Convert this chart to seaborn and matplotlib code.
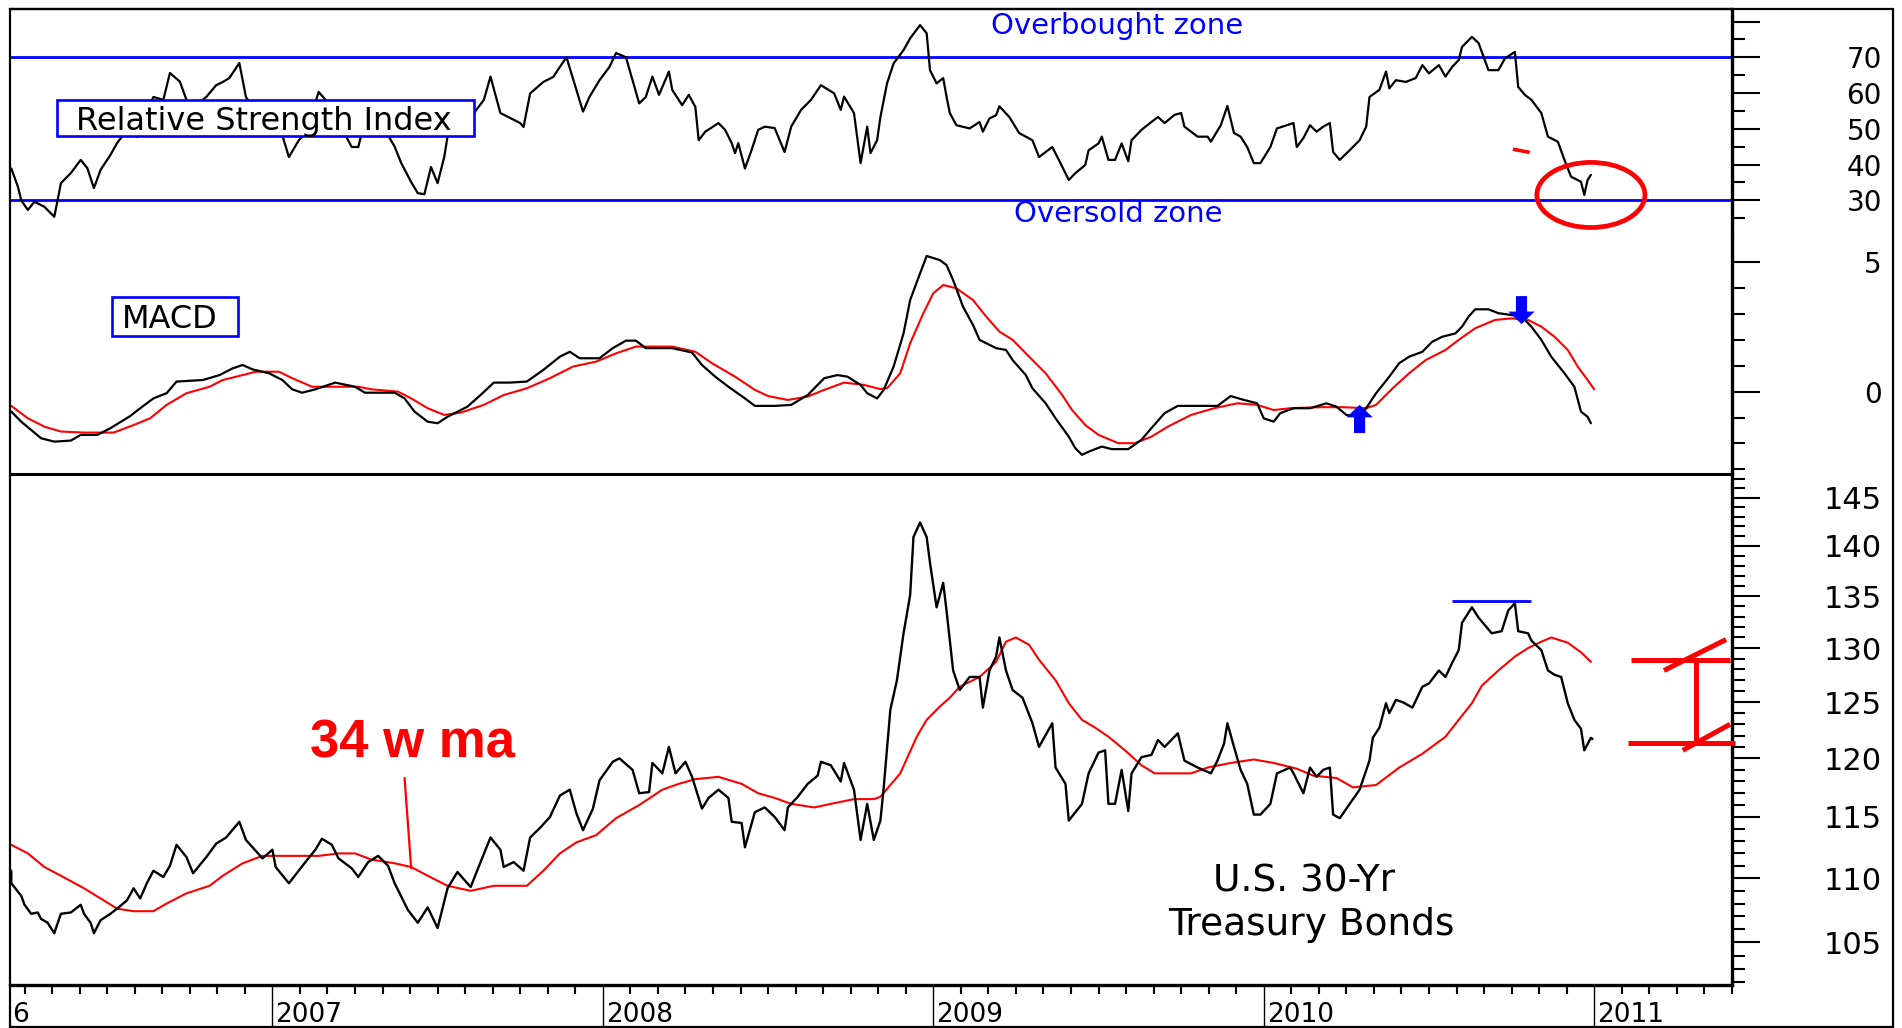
import matplotlib
matplotlib.use('Agg')
import numpy as np
import pandas as pd
import matplotlib.pyplot as plt
import seaborn as sns
from matplotlib.patches import Rectangle, Ellipse
from matplotlib.ticker import FixedLocator, NullFormatter

sns.set_theme(style='white', rc={'axes.edgecolor': 'black', 'text.color': 'black',
                                 'xtick.color': 'black', 'ytick.color': 'black'})
plt.rcParams['font.family'] = ['DejaVu Sans']

# ---------------- data (weekly, time in decimal years) ----------------
price_t = [2006.21, 2006.21, 2006.24, 2006.25, 2006.27, 2006.29, 2006.30, 2006.32, 2006.34, 2006.36,
           2006.39, 2006.42, 2006.43, 2006.45, 2006.46, 2006.48, 2006.51, 2006.53, 2006.56, 2006.58,
           2006.60, 2006.62, 2006.64, 2006.67, 2006.69, 2006.71, 2006.74, 2006.76, 2006.80, 2006.83,
           2006.86, 2006.90, 2006.92, 2006.97, 2007.00, 2007.01, 2007.05, 2007.10, 2007.13, 2007.15,
           2007.18, 2007.20, 2007.24, 2007.26, 2007.29, 2007.32, 2007.35, 2007.37, 2007.41, 2007.44,
           2007.47, 2007.50, 2007.53, 2007.56, 2007.60, 2007.63, 2007.66, 2007.69, 2007.70, 2007.73,
           2007.76, 2007.78, 2007.81, 2007.84, 2007.87, 2007.90, 2007.92, 2007.94, 2007.97, 2007.99,
           2008.03, 2008.05, 2008.09, 2008.11, 2008.14, 2008.15, 2008.18, 2008.20, 2008.22, 2008.25,
           2008.27, 2008.30, 2008.32, 2008.35, 2008.38, 2008.39, 2008.42, 2008.43, 2008.46, 2008.49,
           2008.52, 2008.55, 2008.56, 2008.59, 2008.62, 2008.65, 2008.66, 2008.69, 2008.72, 2008.73,
           2008.76, 2008.78, 2008.80, 2008.82, 2008.84, 2008.85, 2008.87, 2008.89, 2008.91, 2008.93,
           2008.94, 2008.96, 2008.98, 2008.99, 2009.01, 2009.03, 2009.04, 2009.06, 2009.08, 2009.11,
           2009.14, 2009.15, 2009.17, 2009.19, 2009.20, 2009.22, 2009.24, 2009.27, 2009.30, 2009.32,
           2009.36, 2009.37, 2009.40, 2009.41, 2009.45, 2009.47, 2009.50, 2009.52, 2009.53, 2009.55,
           2009.57, 2009.59, 2009.60, 2009.63, 2009.66, 2009.68, 2009.70, 2009.72, 2009.74, 2009.76,
           2009.80, 2009.84, 2009.86, 2009.88, 2009.89, 2009.91, 2009.93, 2009.95, 2009.97, 2009.99,
           2010.02, 2010.04, 2010.08, 2010.09, 2010.12, 2010.14, 2010.16, 2010.18, 2010.20, 2010.21,
           2010.23, 2010.26, 2010.29, 2010.32, 2010.33, 2010.35, 2010.37, 2010.38, 2010.40, 2010.42,
           2010.45, 2010.48, 2010.50, 2010.53, 2010.55, 2010.57, 2010.59, 2010.60, 2010.63, 2010.65,
           2010.69, 2010.72, 2010.74, 2010.76, 2010.77, 2010.80, 2010.81, 2010.84, 2010.86, 2010.88,
           2010.90, 2010.92, 2010.94, 2010.96, 2010.97, 2010.99, 2010.995]
price = [110.6, 109.6, 108.6, 107.9, 107.2, 107.3, 106.8, 106.5, 105.7, 107.2,
         107.3, 107.9, 107.2, 106.5, 105.7, 106.7, 107.2, 107.6, 108.25, 109.2,
         108.4, 109.6, 110.6, 110.1, 111.0, 112.7, 111.7, 110.4, 111.7, 112.8,
         113.3, 114.6, 113.1, 111.6, 112.3, 110.9, 109.6, 111.3, 112.3, 113.2,
         112.7, 111.6, 110.8, 110.1, 111.3, 111.8, 111.0, 109.6, 107.5, 106.5,
         107.7, 106.1, 109.2, 110.5, 109.3, 111.3, 113.3, 112.3, 110.9, 111.3,
         110.6, 113.3, 114.1, 115.0, 116.8, 117.3, 115.3, 113.9, 115.7, 118.1,
         119.7, 120.0, 119.0, 117.0, 117.1, 119.6, 118.7, 121.0, 118.7, 119.7,
         118.4, 115.7, 116.6, 117.3, 116.6, 114.6, 114.5, 112.5, 115.4, 115.8,
         115.0, 113.9, 115.8, 116.7, 117.8, 118.5, 119.7, 119.4, 118.0, 119.6,
         117.3, 113.1, 116.1, 113.1, 114.7, 117.5, 124.3, 127.0, 131.4, 135.1,
         140.9, 142.4, 140.9, 138.3, 133.9, 136.3, 133.6, 127.9, 126.1, 127.3,
         127.3, 124.5, 127.9, 129.2, 131.0, 127.9, 126.1, 125.4, 123.1, 121.0,
         123.1, 119.2, 117.8, 114.7, 116.1, 118.7, 120.5, 120.7, 116.1, 116.1,
         119.0, 115.5, 118.7, 120.1, 120.3, 121.6, 121.0, 121.6, 122.2, 119.8,
         119.2, 118.7, 119.8, 121.3, 123.1, 121.0, 119.0, 117.8, 115.2, 115.2,
         116.1, 118.7, 119.2, 118.7, 117.0, 119.2, 118.4, 119.0, 119.2, 115.2,
         114.9, 116.1, 117.3, 119.8, 121.8, 122.7, 124.9, 124.0, 125.2, 125.0,
         124.5, 126.4, 126.7, 127.9, 127.3, 128.6, 129.8, 132.4, 133.9, 132.9,
         131.4, 131.6, 133.6, 134.3, 131.6, 131.4, 130.7, 129.8, 127.9, 127.5,
         127.3, 124.9, 123.4, 122.6, 120.7, 121.8, 121.7]

ma_t = [2006.21, 2006.26, 2006.31, 2006.36, 2006.43, 2006.48, 2006.53, 2006.58, 2006.64, 2006.68,
        2006.74, 2006.81, 2006.85, 2006.91, 2006.97, 2007.03, 2007.14, 2007.20, 2007.25, 2007.30,
        2007.37, 2007.42, 2007.47, 2007.53, 2007.60, 2007.67, 2007.77, 2007.82, 2007.87, 2007.92,
        2007.98, 2008.04, 2008.11, 2008.18, 2008.23, 2008.28, 2008.35, 2008.42, 2008.47, 2008.52,
        2008.57, 2008.64, 2008.69, 2008.76, 2008.82, 2008.84, 2008.90, 2008.95, 2008.98, 2009.02,
        2009.05, 2009.08, 2009.14, 2009.19, 2009.22, 2009.25, 2009.29, 2009.32, 2009.37, 2009.41,
        2009.45, 2009.49, 2009.53, 2009.58, 2009.63, 2009.67, 2009.73, 2009.78, 2009.83, 2009.90,
        2009.97, 2010.03, 2010.10, 2010.15, 2010.22, 2010.27, 2010.34, 2010.41, 2010.48, 2010.55,
        2010.59, 2010.63, 2010.66, 2010.71, 2010.76, 2010.80, 2010.84, 2010.87, 2010.92, 2010.96,
        2010.99]
ma_34w = [112.7, 112.0, 110.9, 110.2, 109.2, 108.4, 107.6, 107.4, 107.4, 108.0,
          108.8, 109.4, 110.2, 111.2, 111.8, 111.8, 111.8, 112.0, 112.0, 111.5,
          111.2, 110.9, 110.2, 109.4, 109.0, 109.4, 109.4, 110.6, 112.0, 112.9,
          113.5, 114.9, 116.0, 117.3, 117.8, 118.2, 118.4, 117.8, 117.0, 116.6,
          116.1, 115.8, 116.1, 116.5, 116.5, 116.7, 118.7, 121.9, 123.4, 124.6,
          125.4, 126.4, 127.3, 128.7, 130.6, 131.0, 130.3, 128.9, 127.0, 124.9,
          123.4, 122.7, 121.9, 120.7, 119.4, 118.7, 118.7, 118.7, 119.2, 119.6,
          119.9, 119.6, 119.1, 118.5, 118.3, 117.5, 117.7, 119.2, 120.4, 121.9,
          123.4, 124.9, 126.5, 127.9, 129.2, 130.0, 130.6, 131.0, 130.5, 129.6,
          128.7]

rsi_t = [2006.21, 2006.23, 2006.24, 2006.26, 2006.28, 2006.31, 2006.34, 2006.35, 2006.36, 2006.39,
         2006.42, 2006.44, 2006.46, 2006.48, 2006.51, 2006.53, 2006.56, 2006.59, 2006.62, 2006.64,
         2006.67, 2006.69, 2006.72, 2006.74, 2006.76, 2006.80, 2006.83, 2006.85, 2006.87, 2006.90,
         2006.92, 2006.97, 2007.03, 2007.05, 2007.08, 2007.10, 2007.14, 2007.18, 2007.20, 2007.24,
         2007.26, 2007.27, 2007.31, 2007.35, 2007.37, 2007.39, 2007.42, 2007.44, 2007.46, 2007.48,
         2007.50, 2007.52, 2007.53, 2007.59, 2007.61, 2007.64, 2007.66, 2007.69, 2007.72, 2007.75,
         2007.76, 2007.78, 2007.82, 2007.85, 2007.87, 2007.89, 2007.92, 2007.94, 2007.96, 2007.99,
         2008.02, 2008.04, 2008.07, 2008.09, 2008.11, 2008.13, 2008.15, 2008.17, 2008.20, 2008.21,
         2008.24, 2008.26, 2008.28, 2008.29, 2008.31, 2008.35, 2008.37, 2008.39, 2008.40, 2008.41,
         2008.43, 2008.45, 2008.47, 2008.49, 2008.52, 2008.55, 2008.57, 2008.60, 2008.63, 2008.66,
         2008.70, 2008.72, 2008.73, 2008.76, 2008.78, 2008.80, 2008.81, 2008.83, 2008.84, 2008.86,
         2008.88, 2008.91, 2008.93, 2008.96, 2008.98, 2008.99, 2009.01, 2009.03, 2009.04, 2009.05,
         2009.07, 2009.11, 2009.14, 2009.15, 2009.17, 2009.19, 2009.20, 2009.23, 2009.26, 2009.30,
         2009.32, 2009.36, 2009.38, 2009.41, 2009.43, 2009.46, 2009.47, 2009.50, 2009.51, 2009.53,
         2009.55, 2009.57, 2009.59, 2009.60, 2009.63, 2009.66, 2009.68, 2009.70, 2009.73, 2009.75,
         2009.76, 2009.80, 2009.83, 2009.84, 2009.87, 2009.89, 2009.91, 2009.93, 2009.95, 2009.97,
         2009.99, 2010.02, 2010.04, 2010.07, 2010.09, 2010.10, 2010.12, 2010.14, 2010.16, 2010.18,
         2010.20, 2010.21, 2010.23, 2010.26, 2010.29, 2010.31, 2010.32, 2010.35, 2010.37, 2010.38,
         2010.40, 2010.43, 2010.46, 2010.48, 2010.50, 2010.53, 2010.55, 2010.57, 2010.59, 2010.60,
         2010.63, 2010.65, 2010.68, 2010.71, 2010.73, 2010.76, 2010.77, 2010.79, 2010.81, 2010.84,
         2010.86, 2010.89, 2010.91, 2010.93, 2010.96, 2010.97, 2010.98, 2010.99]
rsi = [38.9, 33.8, 30.0, 27.3, 29.6, 28.2, 25.4, 30.0, 34.8, 37.6,
       41.3, 39.0, 33.4, 38.5, 42.7, 46.0, 49.7, 47.7, 55.3, 58.9,
       58.1, 65.6, 63.2, 58.1, 56.1, 58.9, 62.2, 63.1, 64.2, 68.4,
       58.9, 52.0, 48.2, 42.1, 46.8, 48.7, 60.3, 56.1, 52.0, 44.9,
       44.9, 48.8, 50.5, 48.2, 45.0, 40.4, 35.1, 32.0, 31.7, 39.3,
       34.8, 42.1, 47.8, 51.6, 54.4, 58.1, 64.6, 54.4, 53.0, 51.6,
       50.5, 59.9, 63.1, 64.5, 67.3, 70.0, 60.9, 54.8, 59.0, 63.6,
       67.3, 71.2, 70.0, 63.6, 57.1, 58.9, 64.6, 59.5, 66.0, 60.9,
       56.6, 59.5, 56.1, 46.8, 49.2, 51.6, 49.7, 46.0, 43.2, 46.0,
       38.9, 44.0, 49.7, 50.6, 50.2, 43.5, 50.6, 55.3, 58.1, 62.2,
       59.9, 55.3, 59.0, 54.4, 40.4, 50.6, 43.2, 46.8, 53.3, 62.7,
       68.3, 72.0, 75.3, 79.0, 76.7, 66.4, 62.7, 64.2, 59.0, 54.4,
       51.0, 50.1, 51.9, 49.2, 52.9, 53.8, 56.3, 53.3, 48.8, 46.8,
       42.1, 44.9, 41.3, 35.7, 37.6, 39.9, 44.0, 45.9, 47.8, 41.3,
       41.3, 45.9, 40.9, 46.8, 49.7, 51.9, 53.3, 51.6, 53.9, 54.4,
       50.6, 47.8, 47.8, 46.4, 51.0, 56.4, 48.8, 47.8, 44.9, 40.4,
       40.4, 44.9, 50.1, 51.0, 51.6, 44.9, 47.4, 51.0, 49.2, 50.6,
       51.6, 43.5, 41.3, 44.0, 46.8, 50.6, 58.9, 60.9, 66.0, 61.3,
       63.6, 63.1, 64.2, 67.8, 65.5, 67.8, 64.6, 67.3, 69.2, 72.9,
       75.7, 74.0, 66.4, 66.4, 69.7, 71.5, 61.7, 59.5, 58.1, 54.4,
       47.8, 46.4, 41.3, 36.6, 35.2, 31.5, 35.7, 37.1]

macd_t = [2006.21, 2006.24, 2006.27, 2006.30, 2006.34, 2006.39, 2006.42, 2006.47, 2006.51, 2006.57,
          2006.60, 2006.64, 2006.68, 2006.71, 2006.79, 2006.84, 2006.88, 2006.91, 2006.94, 2006.99,
          2007.03, 2007.06, 2007.09, 2007.13, 2007.19, 2007.25, 2007.28, 2007.37, 2007.40, 2007.43,
          2007.47, 2007.50, 2007.53, 2007.59, 2007.63, 2007.67, 2007.72, 2007.77, 2007.82, 2007.87,
          2007.90, 2007.93, 2007.99, 2008.03, 2008.07, 2008.10, 2008.13, 2008.21, 2008.27, 2008.30,
          2008.34, 2008.38, 2008.43, 2008.46, 2008.52, 2008.57, 2008.62, 2008.67, 2008.71, 2008.74,
          2008.78, 2008.80, 2008.83, 2008.85, 2008.88, 2008.91, 2008.93, 2008.96, 2008.98, 2009.02,
          2009.04, 2009.06, 2009.09, 2009.12, 2009.14, 2009.19, 2009.22, 2009.24, 2009.28, 2009.30,
          2009.34, 2009.37, 2009.41, 2009.43, 2009.45, 2009.47, 2009.51, 2009.54, 2009.59, 2009.63,
          2009.66, 2009.70, 2009.74, 2009.86, 2009.90, 2009.94, 2009.98, 2010.00, 2010.03, 2010.05,
          2010.09, 2010.14, 2010.19, 2010.22, 2010.25, 2010.29, 2010.31, 2010.34, 2010.38, 2010.41,
          2010.44, 2010.48, 2010.51, 2010.54, 2010.58, 2010.60, 2010.62, 2010.64, 2010.68, 2010.71,
          2010.75, 2010.78, 2010.81, 2010.84, 2010.87, 2010.91, 2010.94, 2010.96, 2010.98, 2010.99]
macd = [-0.77, -1.16, -1.48, -1.80, -1.93, -1.89, -1.67, -1.67, -1.41, -0.94,
        -0.64, -0.26, -0.06, 0.39, 0.45, 0.64, 0.90, 1.03, 0.86, 0.71,
        0.45, 0.09, -0.04, 0.09, 0.35, 0.19, -0.04, -0.04, -0.26, -0.77,
        -1.16, -1.22, -0.97, -0.58, -0.13, 0.35, 0.35, 0.39, 0.84, 1.35,
        1.54, 1.29, 1.29, 1.68, 1.97, 1.97, 1.68, 1.68, 1.51, 1.03,
        0.58, 0.19, -0.26, -0.55, -0.55, -0.51, -0.13, 0.52, 0.64, 0.58,
        0.26, -0.06, -0.26, 0.07, 0.97, 2.25, 3.54, 4.57, 5.24, 5.08,
        4.89, 4.31, 3.28, 2.58, 2.00, 1.68, 1.61, 1.22, 0.64, 0.13,
        -0.45, -1.03, -1.74, -2.19, -2.44, -2.32, -2.12, -2.22, -2.22, -1.86,
        -1.41, -0.83, -0.55, -0.55, -0.17, -0.32, -0.45, -1.03, -1.16, -0.83,
        -0.64, -0.64, -0.45, -0.58, -0.90, -0.97, -0.64, -0.06, 0.58, 1.10,
        1.35, 1.54, 1.93, 2.12, 2.25, 2.51, 2.90, 3.18, 3.18, 3.03,
        2.96, 2.90, 2.51, 2.00, 1.35, 0.71, 0.19, -0.77, -0.97, -1.22]

signal_t = [2006.21, 2006.26, 2006.31, 2006.36, 2006.43, 2006.52, 2006.58, 2006.63, 2006.68, 2006.74,
            2006.81, 2006.85, 2006.91, 2006.95, 2007.02, 2007.06, 2007.12, 2007.26, 2007.30, 2007.38,
            2007.42, 2007.47, 2007.52, 2007.57, 2007.64, 2007.70, 2007.77, 2007.84, 2007.91, 2007.98,
            2008.04, 2008.10, 2008.21, 2008.28, 2008.33, 2008.40, 2008.46, 2008.50, 2008.56, 2008.62,
            2008.67, 2008.73, 2008.79, 2008.84, 2008.86, 2008.90, 2008.93, 2008.97, 2009.00, 2009.03,
            2009.07, 2009.12, 2009.16, 2009.20, 2009.24, 2009.29, 2009.34, 2009.39, 2009.42, 2009.46,
            2009.50, 2009.56, 2009.61, 2009.66, 2009.71, 2009.78, 2009.85, 2009.92, 2009.98, 2010.03,
            2010.08, 2010.17, 2010.24, 2010.31, 2010.34, 2010.39, 2010.44, 2010.49, 2010.55, 2010.59,
            2010.64, 2010.70, 2010.75, 2010.80, 2010.84, 2010.88, 2010.92, 2010.95, 2010.98, 2011.00]
signal = [-0.55, -1.03, -1.35, -1.54, -1.58, -1.58, -1.29, -1.03, -0.51, -0.06,
          0.19, 0.45, 0.64, 0.77, 0.77, 0.52, 0.19, 0.19, 0.09, 0.00,
          -0.26, -0.64, -0.90, -0.81, -0.51, -0.13, 0.13, 0.52, 0.97, 1.16,
          1.48, 1.74, 1.74, 1.54, 1.10, 0.58, 0.07, -0.17, -0.32, -0.19,
          0.07, 0.35, 0.26, 0.10, 0.13, 0.71, 1.87, 3.03, 3.80, 4.12,
          3.99, 3.54, 2.90, 2.32, 2.00, 1.35, 0.71, -0.13, -0.71, -1.29,
          -1.67, -1.99, -1.99, -1.74, -1.35, -0.90, -0.64, -0.45, -0.51, -0.71,
          -0.64, -0.60, -0.60, -0.64, -0.51, 0.13, 0.71, 1.22, 1.61, 2.00,
          2.45, 2.77, 2.83, 2.77, 2.51, 2.12, 1.61, 0.97, 0.45, 0.09]

years = [2007, 2008, 2009, 2010, 2011]

# annotation anchors (data units)
macd_buy = (2010.29, -0.51, -1.60)     # x, arrow tip, arrow tail
macd_sell = (2010.78, 2.61, 3.69)
top_level = 134.5                       # double-top line
top_span = (2010.57, 2010.81)
range_hi, range_lo = 128.9, 121.3       # red bracket on the right

assert len(price_t) == len(price) and len(ma_t) == len(ma_34w)
assert len(rsi_t) == len(rsi) and len(macd_t) == len(macd) and len(signal_t) == len(signal)

price_df = pd.DataFrame({'t': price_t, 'v': price})
ma_df = pd.DataFrame({'t': ma_t, 'v': ma_34w})
rsi_df = pd.DataFrame({'t': rsi_t, 'v': rsi})
macd_df = pd.DataFrame({'t': macd_t, 'v': macd})
signal_df = pd.DataFrame({'t': signal_t, 'v': signal})

# ---------------- layout ----------------
W, H = 1902, 1028
BLUE = '#0000ff'
RED = '#ff0000'
fig = plt.figure(figsize=(W / 100, H / 100), dpi=100)
fig.patch.set_facecolor('white')


def fx(px):
    return px / W


def fy(py):
    return 1 - py / H


def px_axes(x0, y0, x1, y1):
    return fig.add_axes([fx(x0), fy(y1), (x1 - x0) / W, (y1 - y0) / H])


ax_rsi = px_axes(10, 9, 1732, 235)
ax_macd = px_axes(10, 235, 1732, 474)
ax_px = px_axes(10, 474, 1732, 985)

XLIM = (2006.206, 2011.417)
LABEL_PAD = 88

for ax in (ax_rsi, ax_macd, ax_px):
    ax.set_xlim(*XLIM)
    ax.set_facecolor('white')
    ax.grid(False)
    for s in ax.spines.values():
        s.set_color('black')
    ax.spines['left'].set_linewidth(1.4)
    ax.spines['right'].set_linewidth(2.4)
    ax.yaxis.tick_right()
    ax.tick_params(axis='y', which='both', direction='out', right=True, left=False,
                   labelright=True, labelleft=False, width=1.5, colors='black')
    ax.tick_params(axis='y', which='major', length=20, pad=LABEL_PAD)
    ax.tick_params(axis='y', which='minor', length=9.5)

ax_rsi.spines['bottom'].set_visible(False)
ax_rsi.spines['top'].set_linewidth(1.6)
ax_macd.spines['top'].set_visible(False)
ax_macd.spines['bottom'].set_visible(False)
ax_px.spines['top'].set_linewidth(2.2)
ax_px.spines['bottom'].set_linewidth(2.4)
for ax in (ax_rsi, ax_macd):
    ax.tick_params(axis='x', which='both', bottom=False, top=False, labelbottom=False)

# ---------------- RSI panel ----------------
sns.lineplot(data=rsi_df, x='t', y='v', ax=ax_rsi, color='black', lw=1.6,
             estimator=None, sort=False, legend=False)
ax_rsi.axhline(70, color=BLUE, lw=2.0, zorder=1)
ax_rsi.axhline(30, color=BLUE, lw=2.0, zorder=1)
ax_rsi.set_ylim(20.3, 83.5)
ax_rsi.yaxis.set_major_locator(FixedLocator([20, 30, 40, 50, 60, 70, 80]))
ax_rsi.set_yticklabels(['', '30', '40', '50', '60', '70', ''])
ax_rsi.yaxis.set_minor_locator(FixedLocator([25, 35, 45, 55, 65, 75]))
ax_rsi.yaxis.set_minor_formatter(NullFormatter())
ax_rsi.add_patch(Ellipse((2010.99, 31.5), width=0.327, height=18.2, fill=False,
                         ec=RED, lw=3.4, clip_on=False, zorder=5))
ax_rsi.plot([2010.754, 2010.805], [44.3, 43.4], color=RED, lw=2.6, solid_capstyle='butt')
ax_rsi.set_xlabel('')
ax_rsi.set_ylabel('')

# ---------------- MACD panel ----------------
sns.lineplot(data=signal_df, x='t', y='v', ax=ax_macd, color=RED, lw=1.5,
             estimator=None, sort=False, legend=False)
sns.lineplot(data=macd_df, x='t', y='v', ax=ax_macd, color='black', lw=1.6,
             estimator=None, sort=False, legend=False)
ax_macd.set_ylim(-3.18, 6.05)
ax_macd.yaxis.set_major_locator(FixedLocator([0, 5]))
ax_macd.set_yticklabels(['0', '5'])
ax_macd.yaxis.set_minor_locator(FixedLocator([-3, -2, -1, 1, 2, 3, 4]))
ax_macd.yaxis.set_minor_formatter(NullFormatter())
arrow_style = 'simple,head_length=0.9,head_width=1.9,tail_width=0.8'
for x, tip, tail in (macd_buy, macd_sell):
    ax_macd.annotate('', xy=(x, tip), xytext=(x, tail),
                     arrowprops=dict(arrowstyle=arrow_style, color=BLUE, lw=0,
                                     shrinkA=0, shrinkB=0, mutation_scale=10),
                     zorder=6)
ax_macd.set_xlabel('')
ax_macd.set_ylabel('')

# ---------------- price panel ----------------
ax_px.set_yscale('log')
sns.lineplot(data=ma_df, x='t', y='v', ax=ax_px, color=RED, lw=1.5,
             estimator=None, sort=False, legend=False)
sns.lineplot(data=price_df, x='t', y='v', ax=ax_px, color='black', lw=1.7,
             estimator=None, sort=False, legend=False)
ax_px.set_ylim(101.8, 147.5)
major_px = list(range(105, 150, 5))
ax_px.yaxis.set_major_locator(FixedLocator(major_px))
ax_px.set_yticklabels([str(v) for v in major_px])
ax_px.yaxis.set_minor_locator(FixedLocator([v for v in range(102, 148) if v % 5]))
ax_px.yaxis.set_minor_formatter(NullFormatter())

ax_px.set_xticks(years)
ax_px.set_xticklabels([])
months = [y + m / 12 for y in range(2006, 2012) for m in range(1, 12)]
ax_px.xaxis.set_minor_locator(FixedLocator([m for m in months if XLIM[0] < m < XLIM[1]]))
ax_px.tick_params(axis='x', which='major', bottom=True, direction='out', length=31, width=1.0)
ax_px.tick_params(axis='x', which='minor', bottom=True, direction='out', length=6.5, width=1.5)

ax_px.hlines(top_level, *top_span, color=BLUE, lw=2.0, zorder=5)
# red bracket measuring the expected drop
br = dict(color=RED, lw=3.6, clip_on=False, solid_capstyle='butt', zorder=6)
ax_px.plot([2011.111, 2011.411], [range_hi, range_hi], **br)
ax_px.plot([2011.102, 2011.426], [range_lo, range_lo], **br)
ax_px.plot([2011.308, 2011.308], [range_hi, range_lo], **br)
ax_px.plot([2011.211, 2011.399], [127.9, 130.8], **br)
ax_px.plot([2011.268, 2011.411], [120.7, 123.0], **br)
# pointer from the label to the moving average
ax_px.plot([2007.40, 2007.42], [118.3, 110.8], color=RED, lw=1.6)
ax_px.set_xlabel('')
ax_px.set_ylabel('')

for ax, size in ((ax_rsi, 20), (ax_macd, 20), (ax_px, 22)):
    for lab in ax.yaxis.get_majorticklabels():
        lab.set_horizontalalignment('right')
        lab.set_fontsize(size)

# year labels below the axis (baseline just above the frame)
for yr in years:
    ax_px.annotate(str(yr), xy=(yr, 0), xycoords=('data', 'axes fraction'),
                   xytext=(2.2, -26.5), textcoords='offset points', ha='left', va='baseline',
                   fontsize=19, annotation_clip=False)
# only the last digit of 2006 is visible at the left edge of the chart
fig.text(fx(12), fy(1022), '6', ha='left', va='baseline', fontsize=19)

# ---------------- texts and boxes ----------------
fig.text(fx(1117), fy(34), 'Overbought zone', color=BLUE, fontsize=21,
         ha='center', va='baseline')
fig.text(fx(1118), fy(222), 'Oversold zone', color=BLUE, fontsize=21,
         ha='center', va='baseline')

for (x0, y0, x1, y1), label, tx, ty in (((57, 100, 474, 136), 'Relative Strength Index', 264, 130),
                                         ((112, 297, 238, 336), 'MACD', 170, 328)):
    fig.add_artist(Rectangle((fx(x0), fy(y1)), (x1 - x0) / W, (y1 - y0) / H,
                             transform=fig.transFigure, facecolor='white',
                             edgecolor=BLUE, lw=1.9, zorder=10))
    fig.text(fx(tx), fy(ty), label, fontsize=23, ha='center', va='baseline', zorder=11)

fig.text(fx(412), fy(758), '34 w ma', color=RED, fontsize=38, fontweight='bold',
         family=['Liberation Sans', 'DejaVu Sans'], ha='center', va='baseline')
fig.text(fx(1304), fy(892), 'U.S. 30-Yr', fontsize=27, ha='center', va='baseline')
fig.text(fx(1311), fy(935), 'Treasury Bonds', fontsize=27, ha='center', va='baseline')

# outer frame
fig.add_artist(Rectangle((fx(10), fy(1027)), (1893 - 10) / W, (1027 - 9) / H,
                         transform=fig.transFigure, fill=False, edgecolor='black', lw=1.6))

fig.savefig('out.png', dpi=100, facecolor='white')
